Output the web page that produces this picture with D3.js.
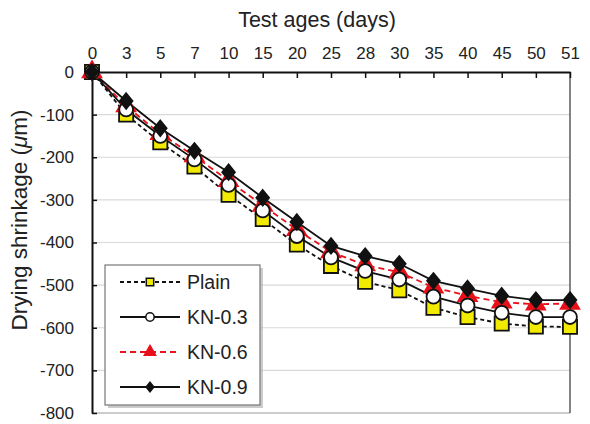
<!DOCTYPE html>
<html><head><meta charset="utf-8">
<script src="https://cdn.jsdelivr.net/npm/d3@7"></script>
<style>body{margin:0;background:#fff}svg{display:block;font-family:"Liberation Sans",Arial,sans-serif}</style>
</head><body><svg id="c" width="590" height="424"></svg>
<script>
const ages = ["0","3","5","7","10","15","20","25","28","30","35","40","45","50","51"];
const plain = [0,-100,-165,-222,-288,-345,-405,-455,-492,-512,-553,-575,-590,-597,-598];
const kn03  = [0,-88,-150,-205,-265,-325,-385,-435,-467,-487,-527,-548,-565,-575,-575];
const kn06  = [0,-80,-145,-197,-255,-313,-370,-422,-453,-470,-505,-525,-540,-545,-543];
const kn09  = [0,-68,-132,-185,-235,-295,-352,-408,-432,-450,-490,-508,-525,-535,-535];
const yTicks = [0,-100,-200,-300,-400,-500,-600,-700,-800];
const seriesNames = ["Plain","KN-0.3","KN-0.6","KN-0.9"];

const svg = d3.select("#c");
const x = d3.scalePoint().domain(ages).range([92,570]);
const y = d3.scaleLinear().domain([0,-800]).range([72,413]);

// wide diamond symbol
const wideDiamond = { draw(ctx, size){ const r = Math.sqrt(size)/2*1.15; ctx.moveTo(0,-r*1.1); ctx.lineTo(r*0.9,0); ctx.lineTo(0,r*1.1); ctx.lineTo(-r*0.9,0); ctx.closePath(); } };

// gridlines
svg.append("g").selectAll("line").data(yTicks.filter(d=>d<0&&d>-800)).join("line")
  .attr("x1",92).attr("x2",570).attr("y1",d=>y(d)).attr("y2",d=>y(d))
  .attr("stroke","#d9d9d9").attr("stroke-width",1.2);
svg.append("line").attr("x1",92).attr("x2",570).attr("y1",y(-800)).attr("y2",y(-800)).attr("stroke","#999").attr("stroke-width",1.2);
svg.append("line").attr("x1",570).attr("x2",570).attr("y1",y(0)).attr("y2",y(-800)).attr("stroke","#333").attr("stroke-width",1.2);

// top axis
const xa = svg.append("g").attr("transform",`translate(0,${y(0)})`)
  .call(d3.axisTop(x).tickSizeInner(-6).tickSizeOuter(0).tickPadding(13));
xa.select(".domain").attr("stroke","#111").attr("stroke-width",2);
xa.selectAll(".tick line").attr("stroke","#111").attr("stroke-width",1.5);
xa.selectAll("text").attr("font-size",17).attr("fill","#222").attr("font-family","Liberation Sans, Arial");

// left axis
const ya = svg.append("g").attr("transform",`translate(92,0)`)
  .call(d3.axisLeft(y).tickValues(yTicks).tickFormat(d=>String(d)).tickSizeInner(-5).tickSizeOuter(0).tickPadding(18));
ya.select(".domain").attr("stroke","#111").attr("stroke-width",2);
ya.selectAll(".tick line").attr("stroke","#111").attr("stroke-width",1.5);
ya.selectAll("text").attr("font-size",17).attr("fill","#222").attr("font-family","Liberation Sans, Arial");

// titles
svg.append("text").attr("x",317).attr("y",27).attr("text-anchor","middle").attr("font-size",21.5).attr("fill","#222").text("Test ages (days)");
const yt = svg.append("text").attr("transform","translate(27,220) rotate(-90)").attr("text-anchor","middle").attr("font-size",22.5).attr("fill","#222");
yt.append("tspan").text("Drying shrinkage (");
yt.append("tspan").attr("font-style","italic").text("μ");
yt.append("tspan").text("m)");

const series = [
  {name:"Plain", data:plain, color:"#111", dash:"4,3", sym:d3.symbolSquare, size:200, fill:"#f2ea00", stroke:"#111"},
  {name:"KN-0.6", data:kn06, color:"#e8101a", dash:"6,4", sym:d3.symbolTriangle, size:150, fill:"#e8101a", stroke:"#e8101a"},
  {name:"KN-0.3", data:kn03, color:"#111", dash:null, sym:d3.symbolCircle, size:150, fill:"#fff", stroke:"#111"},
  {name:"KN-0.9", data:kn09, color:"#111", dash:null, sym:wideDiamond, size:150, fill:"#111", stroke:"#111"}
];
const line = d3.line().x((d,i)=>x(ages[i])).y(d=>y(d));
series.forEach(s=>{
  const p = svg.append("path").datum(s.data).attr("d",line).attr("fill","none")
    .attr("stroke",s.color).attr("stroke-width",1.8);
  if (s.dash) p.attr("stroke-dasharray",s.dash);
});
series.forEach(s=>{
  svg.append("g").selectAll("path").data(s.data).join("path")
    .attr("transform",(d,i)=>`translate(${x(ages[i])},${y(d)})`)
    .attr("d",d3.symbol().type(s.sym).size(s.size))
    .attr("fill",s.fill).attr("stroke",s.stroke).attr("stroke-width",1.8);
});

// legend
const lg = svg.append("g");
lg.append("rect").attr("x",108).attr("y",268).attr("width",155).attr("height",140).attr("fill","#aaa").attr("opacity",0.6);
lg.append("rect").attr("x",105).attr("y",265).attr("width",155).attr("height",140).attr("fill","#fff").attr("stroke","#777").attr("stroke-width",1.2);
const legendOrder = [series[0],series[2],series[1],series[3]];
legendOrder.forEach((s,i)=>{
  const yy = 282 + i*35;
  const l = lg.append("line").attr("x1",120).attr("x2",180).attr("y1",yy).attr("y2",yy).attr("stroke",s.color).attr("stroke-width",1.8);
  if (s.dash) l.attr("stroke-dasharray",s.dash);
  lg.append("path").attr("transform",`translate(150,${yy})`).attr("d",d3.symbol().type(s.sym).size(55))
    .attr("fill",s.fill).attr("stroke",s.stroke).attr("stroke-width",1.5);
  lg.append("text").attr("x",187).attr("y",yy+7).attr("font-size",19.5).attr("fill","#222").text(s.name);
});
</script></body></html>
